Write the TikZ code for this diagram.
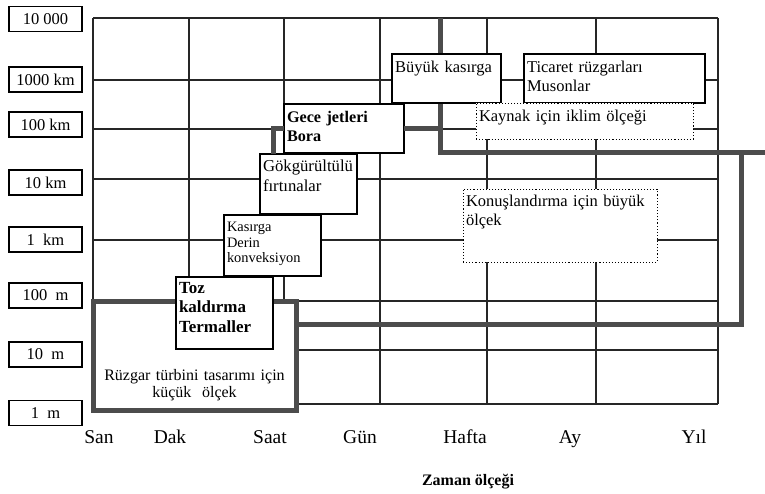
\documentclass[tikz,border=0pt]{standalone}
\usepackage{fontspec}
\setmainfont{Liberation Serif}
\usetikzlibrary{positioning}

\tikzset{
  gridline/.style={line width=1.1pt, black!85},
  heavy/.style={line width=5pt, black!70},
  scalebox/.style={draw, line width=1.1pt, minimum width=73pt, minimum height=25pt, inner sep=0pt, font=\fontsize{16.5}{18}\selectfont},
  phenom/.style={draw, fill=white, line width=1.1pt, anchor=north west, outer sep=0pt, inner xsep=3pt, inner ysep=0pt, align=left, font=\fontsize{16.5}{19}\selectfont},
  plan/.style={phenom, dotted, line width=0.9pt},
  timelabel/.style={anchor=base, font=\fontsize{19.5}{22}\selectfont},
}

\begin{document}
\begin{tikzpicture}[x=1pt, y=-1pt]
  \useasboundingbox (0,0) rectangle (765,494);

  % grid
  \foreach \x in {93,189,284,380,487,596,718}
    \draw[gridline] (\x,18) -- (\x,404);
  \foreach \y in {18,80,129,179,240,301,350,404}
    \draw[gridline] (93,\y) -- (718,\y);

  % length scale
  \node[scalebox] (s10000) at (45.5,19) {10 000};
  \node[scalebox] (s1000km) at (45.5,79.5) {1000 km};
  \node[scalebox] (s100km) at (45.5,124.5) {100 km};
  \node[scalebox] (s10km) at (45.5,182.5) {10 km};
  \node[scalebox] (s1km) at (45.5,239.5) {1\ \ km};
  \node[scalebox] (s100m) at (45.5,295.5) {100\ \ m};
  \node[scalebox] (s10m) at (45.5,354.5) {10\ \ m};
  \node[scalebox] (s1m) at (45.5,413) {1\ \ m};

  % time scale
  \node[timelabel] (tsan) at (99,443) {San};
  \node[timelabel] (tdak) at (170,443) {Dak};
  \node[timelabel] (tsaat) at (270,443) {Saat};
  \node[timelabel] (tgun) at (360,443) {Gün};
  \node[timelabel] (thafta) at (465,443) {Hafta};
  \node[timelabel] (tay) at (570,443) {Ay};
  \node[timelabel] (tyil) at (694,443) {Yıl};
  \node[anchor=base, font=\bfseries\fontsize{16}{19}\selectfont] (title) at (468,485) {Zaman ölçeği};

  \coordinate (jetknee) at (273,0);
  \coordinate (spine) at (440,18);
  \coordinate (drop) at (741,153);
  \coordinate (edge) at (765,153);
  \coordinate (foot) at (741,324);

  % small scale
  \node[draw=black!70, line width=5pt, fill=white, anchor=north west, outer sep=0pt, inner sep=0pt,
        text width=203pt, align=center, text height=78.5pt, text depth=30pt,
        font=\fontsize{16}{17}\selectfont] (small) at (93,301.5)
        {Rüzgar türbini tasarımı için\\küçük\ \ ölçek};

  % large scale
  \draw[heavy] (spine) -- (spine |- drop) -- (edge);
  \draw[heavy] (drop) -- (foot) -- (foot -| small.east);

  % phenomena
  \node[phenom, text width=91pt, text height=16pt, text depth=56pt, font=\bfseries\fontsize{17}{19.5}\selectfont] (dust) at (176,277) {Toz\\kaldırma\\Termaller};
  \node[phenom, text width=91pt, text height=17pt, text depth=44pt, font=\fontsize{14.4}{15.5}\selectfont] (deep) at (224,215) {Kasırga\\Derin\\konveksiyon};
  \node[phenom, text width=91pt, text height=18pt, text depth=42pt, font=\fontsize{16.7}{20}\selectfont] (storm) at (260,154) {Gökgürültülü\\fırtınalar};
  \node[phenom, text width=114pt, text height=19pt, text depth=30pt, font=\bfseries\fontsize{16.2}{19}\selectfont] (jet) at (284,104) {Gece jetleri\\Bora};
  \draw[heavy] (jet.west) -| (jetknee |- storm.north);
  \draw[heavy] (jet.east) -- (jet.east -| spine);
  \node[phenom, text width=103pt, text height=19pt, text depth=30pt] (bigcyc) at (392,54) {Büyük kasırga};
  \node[phenom, text width=175pt, text height=19pt, text depth=30pt] (trade) at (524,54) {Ticaret rüzgarları\\Musonlar};
  \node[plan, text width=211pt, text height=19pt, text depth=17pt] (source) at (476,103) {Kaynak için iklim ölçeği};
  \node[plan, text width=188pt, text height=18pt, text depth=55pt] (siting) at (463,189) {Konuşlandırma için büyük\\ölçek};
\end{tikzpicture}
\end{document}
